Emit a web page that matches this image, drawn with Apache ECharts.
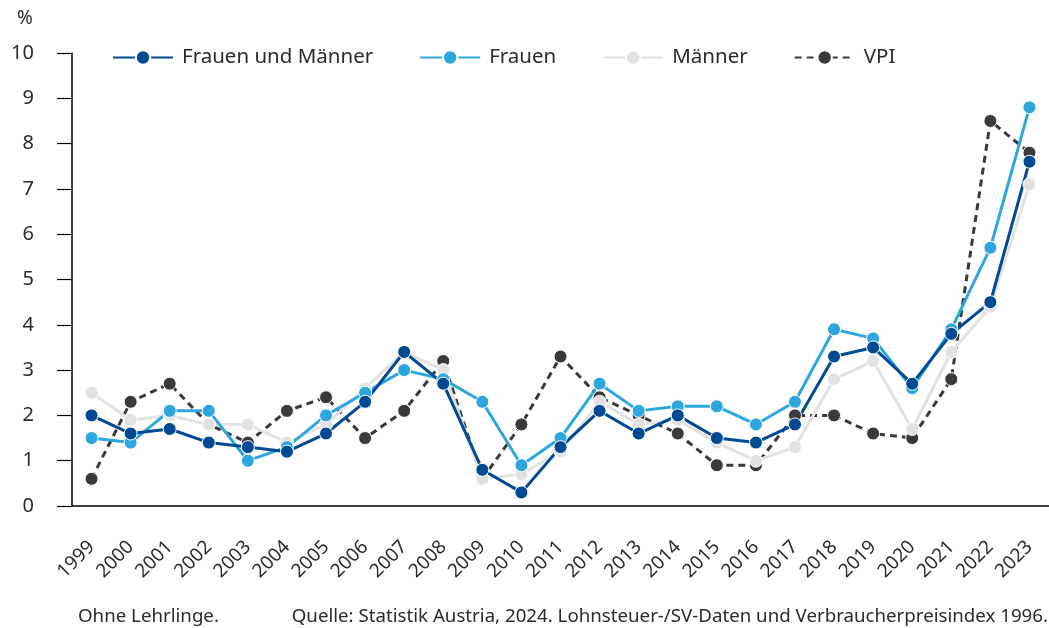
<!DOCTYPE html>
<html>
<head>
<meta charset="utf-8">
<title>Lohnentwicklung</title>
<script src="https://cdn.jsdelivr.net/npm/echarts@6/dist/echarts.min.js"></script>
<style>
  html, body { margin: 0; padding: 0; background: #fff; }
  #chart { width: 1049px; height: 628px; }
</style>
</head>
<body>
<div id="chart"></div>
<script>
  var years = ['1999','2000','2001','2002','2003','2004','2005','2006','2007','2008','2009','2010',
    '2011','2012','2013','2014','2015','2016','2017','2018','2019','2020','2021','2022','2023'];
  var gesamt = [2.0,1.6,1.7,1.4,1.3,1.2,1.6,2.3,3.4,2.7,0.8,0.3,1.3,2.1,1.6,2.0,1.5,1.4,1.8,3.3,3.5,2.7,3.8,4.5,7.6];
  var frauen = [1.5,1.4,2.1,2.1,1.0,1.3,2.0,2.5,3.0,2.8,2.3,0.9,1.5,2.7,2.1,2.2,2.2,1.8,2.3,3.9,3.7,2.6,3.9,5.7,8.8];
  var maenner = [2.5,1.9,2.0,1.8,1.8,1.4,1.8,2.6,3.4,3.0,0.6,0.7,1.2,2.3,1.8,1.9,1.4,1.0,1.3,2.8,3.2,1.7,3.4,4.4,7.1];
  var vpi = [0.6,2.3,2.7,1.8,1.4,2.1,2.4,1.5,2.1,3.2,0.6,1.8,3.3,2.4,2.0,1.6,0.9,0.9,2.0,2.0,1.6,1.5,2.8,8.5,7.8];

  var font = 'Noto Sans';
  var txt = '#2b2b2b';

  function lineSeries(name, data, color, dashed) {
    return {
      name: name,
      type: 'line',
      data: data,
      symbol: 'circle',
      symbolSize: 13,
      lineStyle: { color: color, width: 3, type: dashed ? [7, 5] : 'solid' },
      itemStyle: { color: color, borderColor: '#fff', borderWidth: 1 },
      emphasis: { disabled: true }
    };
  }

  var chart = echarts.init(document.getElementById('chart'));
  chart.setOption({
    animation: false,
    textStyle: { fontFamily: font },
    grid: { left: 72, right: 0, top: 53, bottom: 122 },
    legend: {
      data: ['Frauen und Männer', 'Frauen', 'Männer', 'VPI'],
      left: 107,
      top: 42,
      itemWidth: 60,
      itemHeight: 18,
      itemGap: 46,
      textStyle: { fontFamily: font, fontSize: 20.5, color: txt, padding: [0, 0, 0, 4] }
    },
    xAxis: {
      type: 'category',
      data: years,
      boundaryGap: true,
      axisLine: { lineStyle: { color: '#000', width: 1.5 } },
      axisTick: { alignWithLabel: true, length: 11, lineStyle: { color: '#000', width: 1.2 } },
      axisLabel: { rotate: 45, fontSize: 19, color: txt, margin: 38, interval: 0, fontFamily: font }
    },
    yAxis: {
      type: 'value',
      min: 0,
      max: 10,
      interval: 1,
      splitLine: { show: false },
      axisLine: { show: true, lineStyle: { color: '#000', width: 1.5 } },
      axisTick: { show: true, length: 15, lineStyle: { color: '#000', width: 1.2 } },
      axisLabel: { fontSize: 20, color: txt, margin: 38, fontFamily: font }
    },
    graphic: [
      { type: 'text', left: 17, top: 9, style: { text: '%', fontSize: 19, fill: txt, fontFamily: font } },
      { type: 'text', left: 78, top: 607, style: { text: 'Ohne Lehrlinge.', fontSize: 18.7, fill: txt, fontFamily: font } },
      { type: 'text', right: 1, top: 607, style: { text: 'Quelle: Statistik Austria, 2024. Lohnsteuer-/SV-Daten und Verbraucherpreisindex 1996.', fontSize: 18.7, fill: txt, fontFamily: font } }
    ],
    series: [
      lineSeries('VPI', vpi, '#3a3a3a', true),
      lineSeries('Männer', maenner, '#e2e2e2', false),
      lineSeries('Frauen', frauen, '#2ea7df', false),
      lineSeries('Frauen und Männer', gesamt, '#004a94', false)
    ]
  });
</script>
</body>
</html>
